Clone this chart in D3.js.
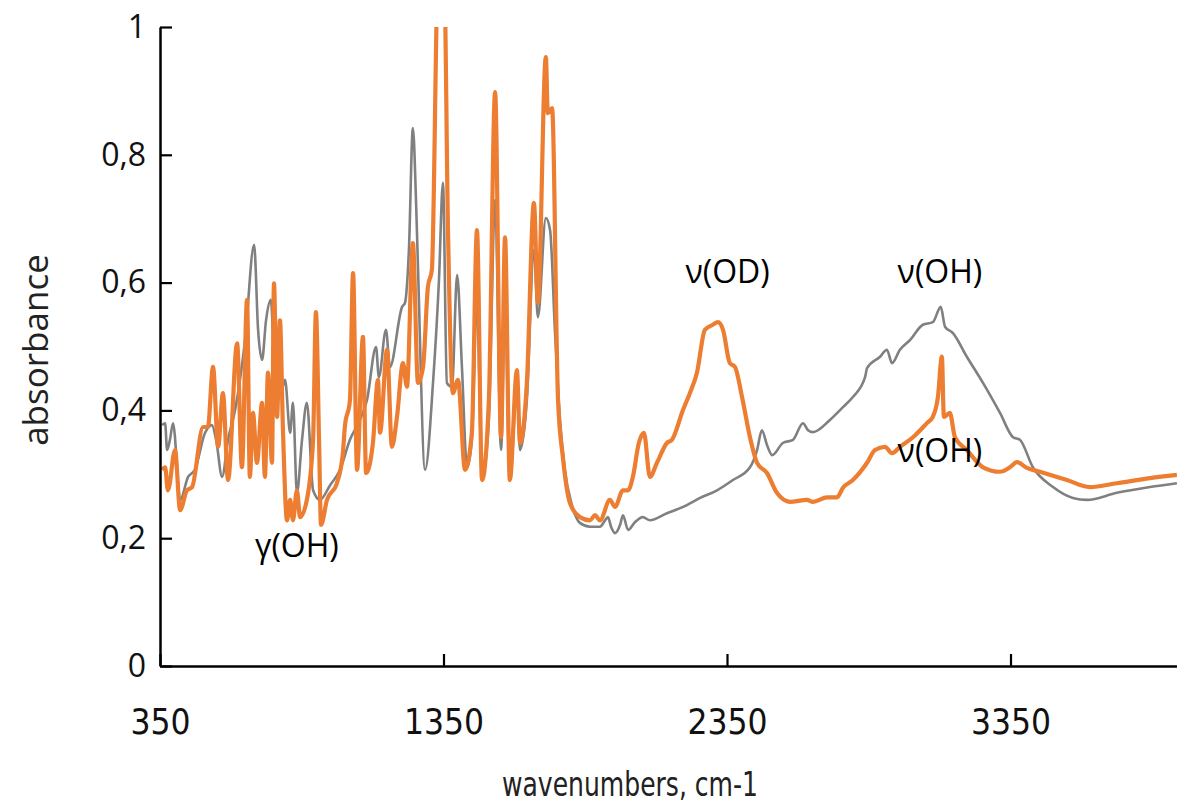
<!DOCTYPE html>
<html>
<head>
<meta charset="utf-8">
<script src="https://cdn.jsdelivr.net/npm/d3@7"></script>
<style>
  body { margin: 0; background: #fff; }
  svg { display: block; }
</style>
</head>
<body>
<svg id="chart" width="1177" height="805"></svg>
<script>
// spectrum: [wavenumber cm-1, absorbance]
const grayData = [
  [357,.377],[368,.380],[375,.338],[385,.354],[396,.380],[421,.260],[449,.296],[473,.307],
  [509,.365],[533,.377],[548,.354],[569,.296],[590,.354],[615,.401],[650,.510],[682,.659],
  [696,.526],[710,.479],[724,.541],[741,.573],[759,.416],[780,.432],[791,.448],[809,.365],
  [819,.412],[833,.271],[851,.354],[868,.412],[890,.275],[914,.260],[950,.283],[985,.307],
  [1020,.354],[1055,.385],[1080,.416],[1112,.499],[1122,.452],[1147,.526],[1161,.468],
  [1204,.562],[1214,.568],[1228,.651],[1242,.842],[1253,.729],[1260,.624],[1285,.307],
  [1313,.443],[1334,.604],[1348,.756],[1362,.443],[1380,.437],[1398,.612],[1415,.468],
  [1433,.311],[1450,.354],[1468,.573],[1486,.291],[1510,.385],[1532,.729],[1553,.338],
  [1567,.573],[1584,.291],[1609,.432],[1620,.338],[1644,.416],[1669,.651],[1683,.546],
  [1711,.701],[1726,.682],[1743,.526],[1761,.385],[1778,.307],[1803,.252],[1831,.224],
  [1867,.218],[1902,.218],[1920,.228],[1930,.233],[1941,.218],[1955,.208],[1973,.221],
  [1983,.236],[2001,.213],[2025,.225],[2053,.233],[2078,.228],[2138,.239],[2195,.249],
  [2255,.263],[2315,.275],[2371,.291],[2431,.311],[2456,.338],[2473,.369],[2491,.346],
  [2509,.330],[2547,.349],[2583,.354],[2618,.380],[2636,.369],[2653,.366],[2713,.385],
  [2759,.405],[2794,.421],[2837,.452],[2844,.466],[2890,.484],[2914,.495],[2932,.474],
  [2960,.495],[2995,.510],[3041,.534],[3076,.538],[3104,.562],[3119,.531],[3147,.521],
  [3196,.484],[3253,.443],[3313,.396],[3359,.358],[3383,.354],[3429,.311],[3500,.280],
  [3570,.263],[3620,.260],[3725,.271],[3842,.280],[3937,.286]
];

const orangeData = [
  [357,.307],[368,.311],[378,.275],[403,.338],[421,.244],[445,.275],[463,.280],[502,.374],
  [519,.374],[537,.468],[555,.343],[572,.427],[590,.291],[622,.505],[639,.311],[657,.573],
  [667,.296],[678,.396],[692,.318],[710,.412],[720,.296],[731,.459],[745,.318],[752,.599],
  [763,.390],[773,.541],[784,.365],[798,.228],[809,.260],[819,.228],[833,.275],[844,.233],
  [868,.260],[890,.354],[900,.554],[911,.354],[918,.221],[939,.260],[974,.286],[995,.333],
  [1002,.374],[1020,.416],[1031,.615],[1045,.307],[1066,.515],[1077,.302],[1101,.349],
  [1119,.448],[1126,.365],[1151,.495],[1168,.343],[1186,.390],[1207,.474],[1221,.437],
  [1242,.662],[1260,.443],[1278,.468],[1295,.593],[1309,.620],[1331,1.08],[1352,1.08],
  [1366,.678],[1383,.427],[1401,.448],[1426,.307],[1450,.365],[1468,.682],[1486,.291],
  [1510,.416],[1532,.898],[1553,.358],[1567,.671],[1584,.291],[1609,.463],[1620,.349],
  [1644,.443],[1669,.725],[1683,.568],[1711,.953],[1718,.865],[1733,.873],[1754,.416],
  [1771,.327],[1796,.255],[1831,.233],[1867,.228],[1884,.236],[1902,.228],[1937,.260],
  [1955,.249],[1983,.275],[2001,.275],[2018,.296],[2039,.349],[2057,.365],[2078,.296],
  [2103,.318],[2138,.349],[2156,.354],[2195,.401],[2219,.427],[2244,.459],[2272,.526],
  [2300,.534],[2318,.538],[2336,.526],[2360,.474],[2378,.468],[2403,.421],[2431,.358],
  [2456,.318],[2491,.302],[2526,.271],[2572,.257],[2632,.260],[2653,.257],[2703,.264],
  [2738,.264],[2759,.279],[2794,.291],[2844,.318],[2872,.338],[2907,.343],[2932,.333],
  [2960,.343],[3006,.358],[3055,.380],[3076,.390],[3094,.421],[3108,.484],[3115,.390],
  [3136,.396],[3154,.358],[3196,.338],[3253,.311],[3313,.304],[3348,.311],[3373,.319],
  [3408,.310],[3454,.304],[3549,.291],[3630,.280],[3725,.286],[3842,.294],[3937,.299]
];

const xTicks = [350, 1350, 2350, 3350];
const yTicks = [0, 0.2, 0.4, 0.6, 0.8, 1];
const yTickLabels = ["0", "0,2", "0,4", "0,6", "0,8", "1"];

const annotations = [
  { text: "γ(OH)", wn: 833, a: 0.17 },
  { text: "ν(OD)", wn: 2352, a: 0.60 },
  { text: "ν(OH)", wn: 3101, a: 0.60 },
  { text: "ν(OH)", wn: 3101, a: 0.32 }
];

const svg = d3.select("#chart");

const x = d3.scaleLinear().domain([350, 3950]).range([160, 1180.6]);
const y = d3.scaleLinear().domain([0, 1]).range([666, 27]);

svg.append("clipPath").attr("id", "plotClip")
  .append("rect").attr("x", 160).attr("y", 27).attr("width", 1030).attr("height", 639);

const line = d3.line().curve(d3.curveMonotoneX).x(d => x(d[0])).y(d => y(d[1]));

const plot = svg.append("g").attr("clip-path", "url(#plotClip)");

plot.append("path")
  .datum(grayData)
  .attr("d", line)
  .attr("fill", "none")
  .attr("stroke", "#808080")
  .attr("stroke-width", 2.6)
  .attr("stroke-linejoin", "round");

plot.append("path")
  .datum(orangeData)
  .attr("d", line)
  .attr("fill", "none")
  .attr("stroke", "#ED7D31")
  .attr("stroke-width", 4.2)
  .attr("stroke-linejoin", "round");

// axes, ticks point inward like the original
const yAxis = svg.append("g")
  .attr("transform", "translate(160,0)")
  .call(d3.axisLeft(y).tickValues(yTicks).tickSize(-12).tickSizeOuter(0).tickPadding(14)
    .tickFormat((d, i) => yTickLabels[i]));

const xAxis = svg.append("g")
  .attr("transform", "translate(0,666)")
  .call(d3.axisBottom(x).tickValues(xTicks).tickSize(-12).tickSizeOuter(0).tickPadding(43)
    .tickFormat(d3.format("d")));

[yAxis, xAxis].forEach(g => {
  g.select(".domain").attr("stroke", "#000").attr("stroke-width", 2.5);
  g.selectAll(".tick line").attr("stroke", "#000").attr("stroke-width", 2.2);
});

yAxis.selectAll(".tick text")
  .attr("fill", "#111")
  .style("font-family", "'Open Sans', 'DejaVu Sans', sans-serif")
  .style("font-size", "32px");

xAxis.selectAll(".tick text")
  .attr("fill", "#111")
  .style("font-family", "'DejaVu Sans Condensed', 'DejaVu Sans', sans-serif")
  .style("font-stretch", "condensed")
  .style("font-size", "35px");

svg.append("text")
  .attr("x", 630)
  .attr("y", 796)
  .attr("text-anchor", "middle")
  .attr("textLength", 256)
  .attr("lengthAdjust", "spacingAndGlyphs")
  .style("font-family", "'DejaVu Sans Condensed', 'DejaVu Sans', sans-serif")
  .style("font-stretch", "condensed")
  .style("font-size", "34px")
  .attr("fill", "#222")
  .text("wavenumbers, cm-1");

svg.append("text")
  .attr("transform", "translate(48,350) rotate(-90)")
  .attr("text-anchor", "middle")
  .style("font-family", "'Open Sans', 'DejaVu Sans', sans-serif")
  .style("font-size", "35px")
  .attr("fill", "#222")
  .text("absorbance");

svg.selectAll(".annot")
  .data(annotations)
  .enter().append("text")
  .attr("class", "annot")
  .attr("x", d => x(d.wn))
  .attr("y", d => y(d.a))
  .attr("text-anchor", "middle")
  .style("font-family", "'Open Sans', 'DejaVu Sans', sans-serif")
  .style("font-size", "32px")
  .attr("fill", "#000")
  .text(d => d.text);
</script>
</body>
</html>
